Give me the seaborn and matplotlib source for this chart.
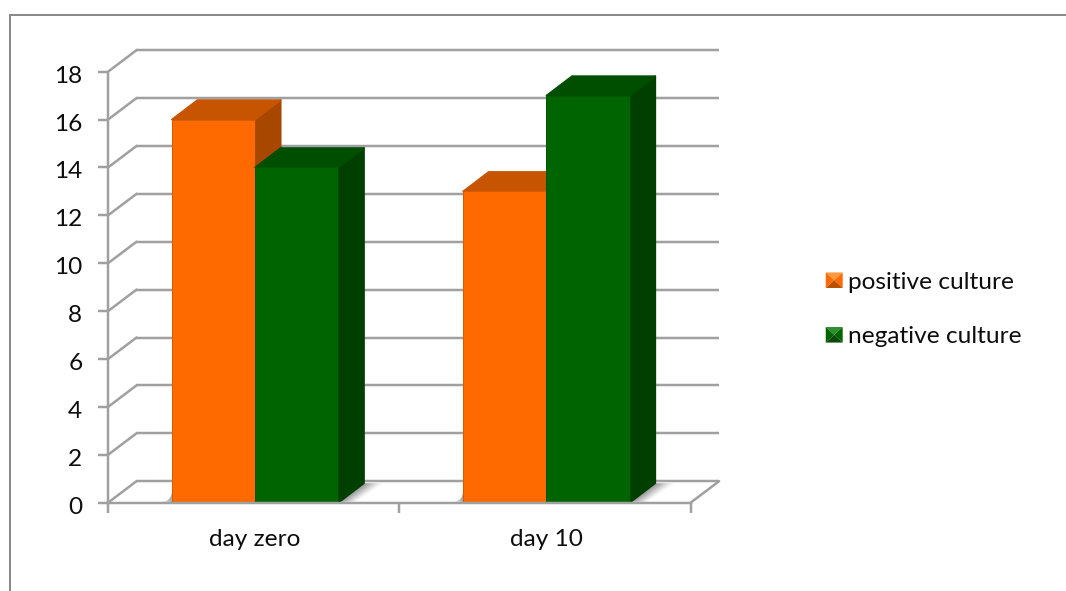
import numpy as np
import pandas as pd
import matplotlib
matplotlib.use("Agg")
import matplotlib.pyplot as plt
from matplotlib.legend_handler import HandlerBase
from matplotlib.patches import Polygon, Patch
from matplotlib.transforms import ScaledTranslation, IdentityTransform
import seaborn as sns

# Culture results per day
days = ["day zero", "day 10"]
positive_culture = [16, 13]
negative_culture = [14, 17]
series_names = ["positive culture", "negative culture"]
y_ticks = list(range(0, 20, 2))

FRONT = {"positive culture": "#ff6a00", "negative culture": "#006400"}
TOP = {"positive culture": "#c75400", "negative culture": "#004f00"}
SIDE = {"positive culture": "#a84700", "negative culture": "#003f00"}
LIGHT = {"positive culture": "#ff9a40", "negative culture": "#2f8f2f"}
DARK = {"positive culture": "#b85000", "negative culture": "#0a4a0a"}

W, H = 1066, 591
DPI = 100
FONT_SIZE = 17.6
TEXT = "#0d0d0d"
sns.set_theme(style="white")
plt.rcParams["font.family"] = ["Lato", "DejaVu Sans"]

frame = pd.DataFrame({
    "day": days * 2,
    "value": positive_culture + negative_culture,
    "series": [series_names[0]] * 2 + [series_names[1]] * 2,
})

fig = plt.figure(figsize=(W / DPI, H / DPI), dpi=DPI)
left, right, top, bottom = 108, 690.6, 71.7, 502.7
ax = fig.add_axes([left / W, 1 - bottom / H, (right - left) / W, (bottom - top) / H])
ax.patch.set_alpha(0)

sns.barplot(data=frame, x="day", y="value", hue="series", hue_order=series_names,
            palette=FRONT, width=0.572, saturation=1, legend=False, ax=ax, zorder=5,
            edgecolor="none")
ax.set_xlim(-0.505, 1.495)
ax.set_ylim(0, 18)
ax.set_xlabel("")
ax.set_ylabel("")

bars = [(p, name) for container, name in zip(ax.containers, series_names) for p in container]

px = 72 / DPI
GRID = "#a0a0a0"
LW = 2.5 * px
dx_wall, dy_wall = 28.5, 21.5
dx_bar, dy_bar = 25.6, 19.5


def shift(dx, dy):
    """Transform that offsets data coordinates by a screen distance in pixels."""
    return ax.transData + ScaledTranslation(dx / DPI, dy / DPI, fig.dpi_scale_trans)


# Back wall gridlines with the receding floor and side edges
for v in y_ticks:
    ax.plot([-0.505, 1.495], [v, v], transform=shift(dx_wall, dy_wall), color=GRID, lw=LW,
            clip_on=False, zorder=1, solid_capstyle="butt")
    x0, y0 = ax.transData.transform((-0.505, v))
    ax.plot([x0, x0 + dx_wall], [y0, y0 + dy_wall], transform=IdentityTransform(),
            color=GRID, lw=LW, clip_on=False, zorder=1, solid_capstyle="round")
x1, y1 = ax.transData.transform((1.495, 0))
ax.plot([x1, x1 + dx_wall], [y1, y1 + dy_wall], transform=IdentityTransform(),
        color=GRID, lw=LW, clip_on=False, zorder=1)

# Soft floor shadow fading away from each bar group
for group in range(2):
    xr, _ = ax.transData.transform((group + 0.286, 0))
    xl, _ = ax.transData.transform((group - 0.286, 0))
    for i in range(20):
        fade = (1 - i / 20) ** 1.4
        ax.add_patch(Polygon(
            [(xr + 2 + i * 0.8, y1 + 1), (xr + dx_bar + i, y1 + dy_bar),
             (xr + dx_bar + i + 1, y1 + dy_bar), (xr + 2 + (i + 1) * 0.8, y1 + 1)],
            closed=True, transform=IdentityTransform(), facecolor="#666666",
            alpha=0.85 * fade, edgecolor="none", clip_on=False, zorder=2))
    for i in range(11):
        fade = 1 - i / 11
        ax.add_patch(Polygon(
            [(xl - i - 1, y1 + 1), (xl - i, y1 + 1), (xl, y1 + 12 - i), (xl, y1 + 11 - i)],
            closed=True, transform=IdentityTransform(), facecolor="#808080",
            alpha=0.7 * fade, edgecolor="none", clip_on=False, zorder=2))

# Extruded top and side faces, built from the bars seaborn placed
for bar, name in bars:
    xa, xb = bar.get_x(), bar.get_x() + bar.get_width()
    h = bar.get_height()
    (pxa, py0), (pxb, pyt) = ax.transData.transform([(xa, 0), (xb, h)])
    z = 6 if name == series_names[0] else 7
    bar.set_zorder(z + 0.2)
    ax.add_patch(Polygon([(pxb, py0), (pxb + dx_bar, py0 + dy_bar), (pxb + dx_bar, pyt + dy_bar), (pxb, pyt)],
                         closed=True, transform=IdentityTransform(), facecolor=SIDE[name],
                         edgecolor=SIDE[name], lw=1.2, joinstyle="round", clip_on=False, zorder=z))
    ax.add_patch(Polygon([(pxa, pyt), (pxa + dx_bar, pyt + dy_bar), (pxb + dx_bar, pyt + dy_bar), (pxb, pyt)],
                         closed=True, transform=IdentityTransform(), facecolor=TOP[name],
                         edgecolor=TOP[name], lw=1.2, joinstyle="round", clip_on=False, zorder=z + 0.1))
    # Bevel line along the front face edges
    ax.plot([pxa, pxa, pxb, pxb], [py0, pyt, pyt, py0], transform=IdentityTransform(),
            color=DARK[name], lw=1.0 * px, alpha=0.55, clip_on=False, zorder=z + 0.3)

# Axis spines and ticks
sns.despine(ax=ax, top=True, right=True)
for s in ("left", "bottom"):
    ax.spines[s].set_color(GRID)
    ax.spines[s].set_linewidth(LW)
    ax.spines[s].set_zorder(12)
ax.set_yticks(y_ticks)
ax.set_xticks([0, 1])
ax.set_xticklabels(days)
ax.set_xticks([-0.505, 0.495, 1.495], minor=True)
ax.tick_params(axis="x", which="major", length=0, pad=19, labelsize=FONT_SIZE, labelcolor=TEXT)
ax.tick_params(axis="x", which="minor", bottom=True, length=7, width=LW, color=GRID)
ax.tick_params(axis="y", left=True, length=7, width=LW, color=GRID, pad=11.5, labelsize=FONT_SIZE, labelcolor=TEXT)

# Nudge the value labels slightly below their tick marks
label_offset = ScaledTranslation(0, -2.5 / DPI, fig.dpi_scale_trans)
for label in ax.get_yticklabels():
    label.set_transform(label.get_transform() + label_offset)


class PyramidHandler(HandlerBase):
    """Legend key drawn as a small square with four bevelled facets."""

    def create_artists(self, legend, orig, xd, yd, width, height, fontsize, trans):
        name = orig.get_label()
        w, h = 12.2, 11.2
        x0, y0 = -xd + (width - w) / 2, -yd + (height - h) / 2
        c = (x0 + w / 2, y0 + h / 2)
        a, b, d, e = (x0, y0), (x0 + w, y0), (x0 + w, y0 + h), (x0, y0 + h)
        faces = [([e, d, c], LIGHT[name]), ([a, e, c], FRONT[name]),
                 ([b, d, c], FRONT[name]), ([a, b, c], DARK[name])]
        return [Polygon(v, closed=True, facecolor=col, edgecolor="none", transform=trans)
                for v, col in faces]


handles = [Patch(label=n) for n in series_names]
fig.legend(handles=handles, labels=series_names, handler_map={Patch: PyramidHandler()},
           loc="center left", bbox_to_anchor=(822 / W, 1 - 309.5 / H), frameon=False,
           fontsize=FONT_SIZE, labelspacing=1.37, handlelength=1.0, handletextpad=0.05,
           labelcolor=TEXT, borderpad=0, borderaxespad=0)

# Outer chart border
fig.add_artist(plt.Rectangle((9.5 / W, -0.01), 1.1, 1.01 - 14.5 / H, fill=False,
                             edgecolor="#8a8a8a", lw=2 * px, transform=fig.transFigure))

fig.savefig("out.png", dpi=DPI, facecolor="white")
